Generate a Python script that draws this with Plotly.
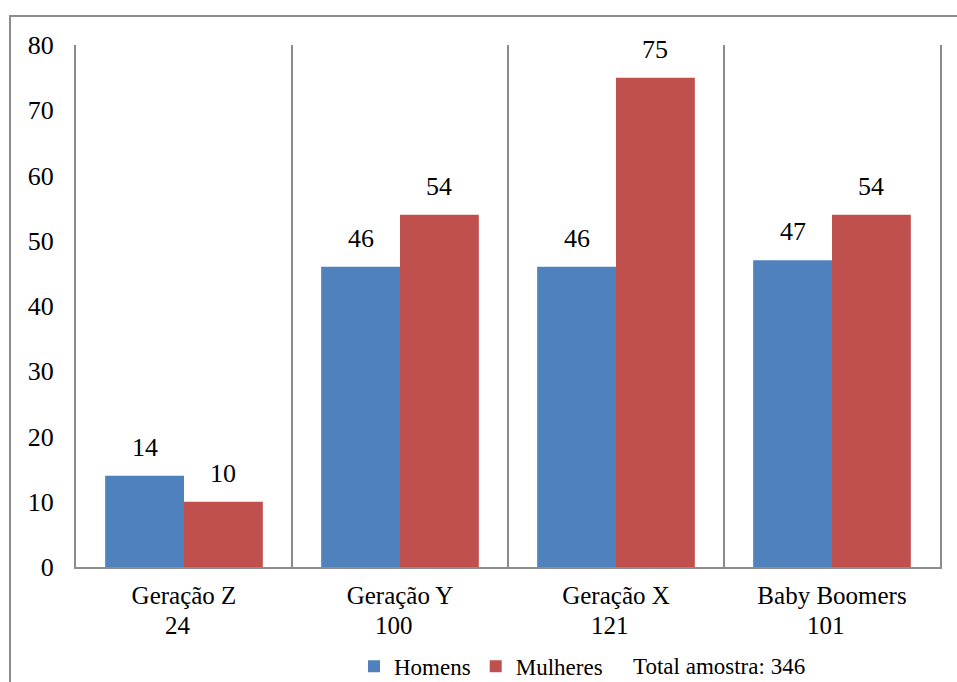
import plotly.graph_objects as go

# Sample by generation and sex
geracoes = ["Geração Z", "Geração Y", "Geração X", "Baby Boomers"]
totais = [24, 100, 121, 101]
homens = [14, 46, 46, 47]
mulheres = [10, 54, 75, 54]
total_amostra = 346
y_ticks = [0, 10, 20, 30, 40, 50, 60, 70, 80]

AZUL = "#4F81BD"
VERMELHO = "#C0504D"
CINZA = "#8c8c8c"
FONTE = '"Times New Roman", "Liberation Serif", serif'
BARGAP = 0.27

pos = list(range(len(geracoes)))

fig = go.Figure()
fig.add_trace(go.Bar(x=pos, y=homens, name="Homens", marker=dict(color=AZUL, line=dict(width=0))))
fig.add_trace(go.Bar(x=pos, y=mulheres, name="Mulheres", marker=dict(color=VERMELHO, line=dict(width=0))))

# value labels above each bar
half = (1 - BARGAP) / 4
annotations = []
for i in pos:
    for off, val in ((-half, homens[i]), (half, mulheres[i])):
        annotations.append(dict(x=i + off, y=val, xref="x", yref="y", text=str(val),
                                showarrow=False, yanchor="bottom", yshift=12,
                                font=dict(family=FONTE, size=26, color="black")))
    # sample size under each category name
    annotations.append(dict(x=i, y=0, xref="x", yref="paper", text=str(totais[i]),
                            showarrow=False, yanchor="middle", yshift=-58, xshift=-6,
                            font=dict(family=FONTE, size=25, color="black")))

annotations.append(dict(x=(631 - 76) / 864, y=-0.19, xref="paper", yref="paper",
                        text=f"Total amostra: {total_amostra}", showarrow=False,
                        xanchor="left", yanchor="middle",
                        font=dict(family=FONTE, size=23, color="black")))

fig.update_layout(
    width=957, height=682,
    margin=dict(l=76, r=17, t=45, b=115, autoexpand=False),
    paper_bgcolor="white", plot_bgcolor="white",
    barmode="group", bargap=BARGAP, bargroupgap=0,
    font=dict(family=FONTE, color="black"),
    showlegend=True,
    legend=dict(orientation="h", x=(354 - 76) / 864, xanchor="left", y=-0.19, yanchor="middle",
                font=dict(family=FONTE, size=23, color="black"), traceorder="normal",
                itemwidth=30, bgcolor="rgba(0,0,0,0)"),
    annotations=annotations,
    shapes=[dict(type="rect", xref="paper", yref="paper",
                 x0=(10 - 76) / 864, x1=1.05, y0=-0.3, y1=(567 - 16) / 522,
                 line=dict(color=CINZA, width=2), layer="above")],
)

fig.update_xaxes(
    range=[-0.5, len(geracoes) - 0.5],
    tickmode="array", tickvals=pos, ticktext=geracoes,
    tickfont=dict(family=FONTE, size=25, color="black"),
    ticks="", ticklabelstandoff=5,
    showgrid=False, zeroline=False,
    showline=True, linecolor=CINZA, linewidth=2,
    minor=dict(tick0=0.5, dtick=1, showgrid=True, gridcolor=CINZA, gridwidth=2),
)
fig.update_yaxes(
    range=[0, 80], tickmode="array", tickvals=y_ticks,
    tickfont=dict(family=FONTE, size=26, color="black"),
    ticks="", ticklabelstandoff=15,
    showgrid=False, zeroline=False,
    showline=True, mirror=True, linecolor=CINZA, linewidth=2,
)

fig.write_html("out.html")
